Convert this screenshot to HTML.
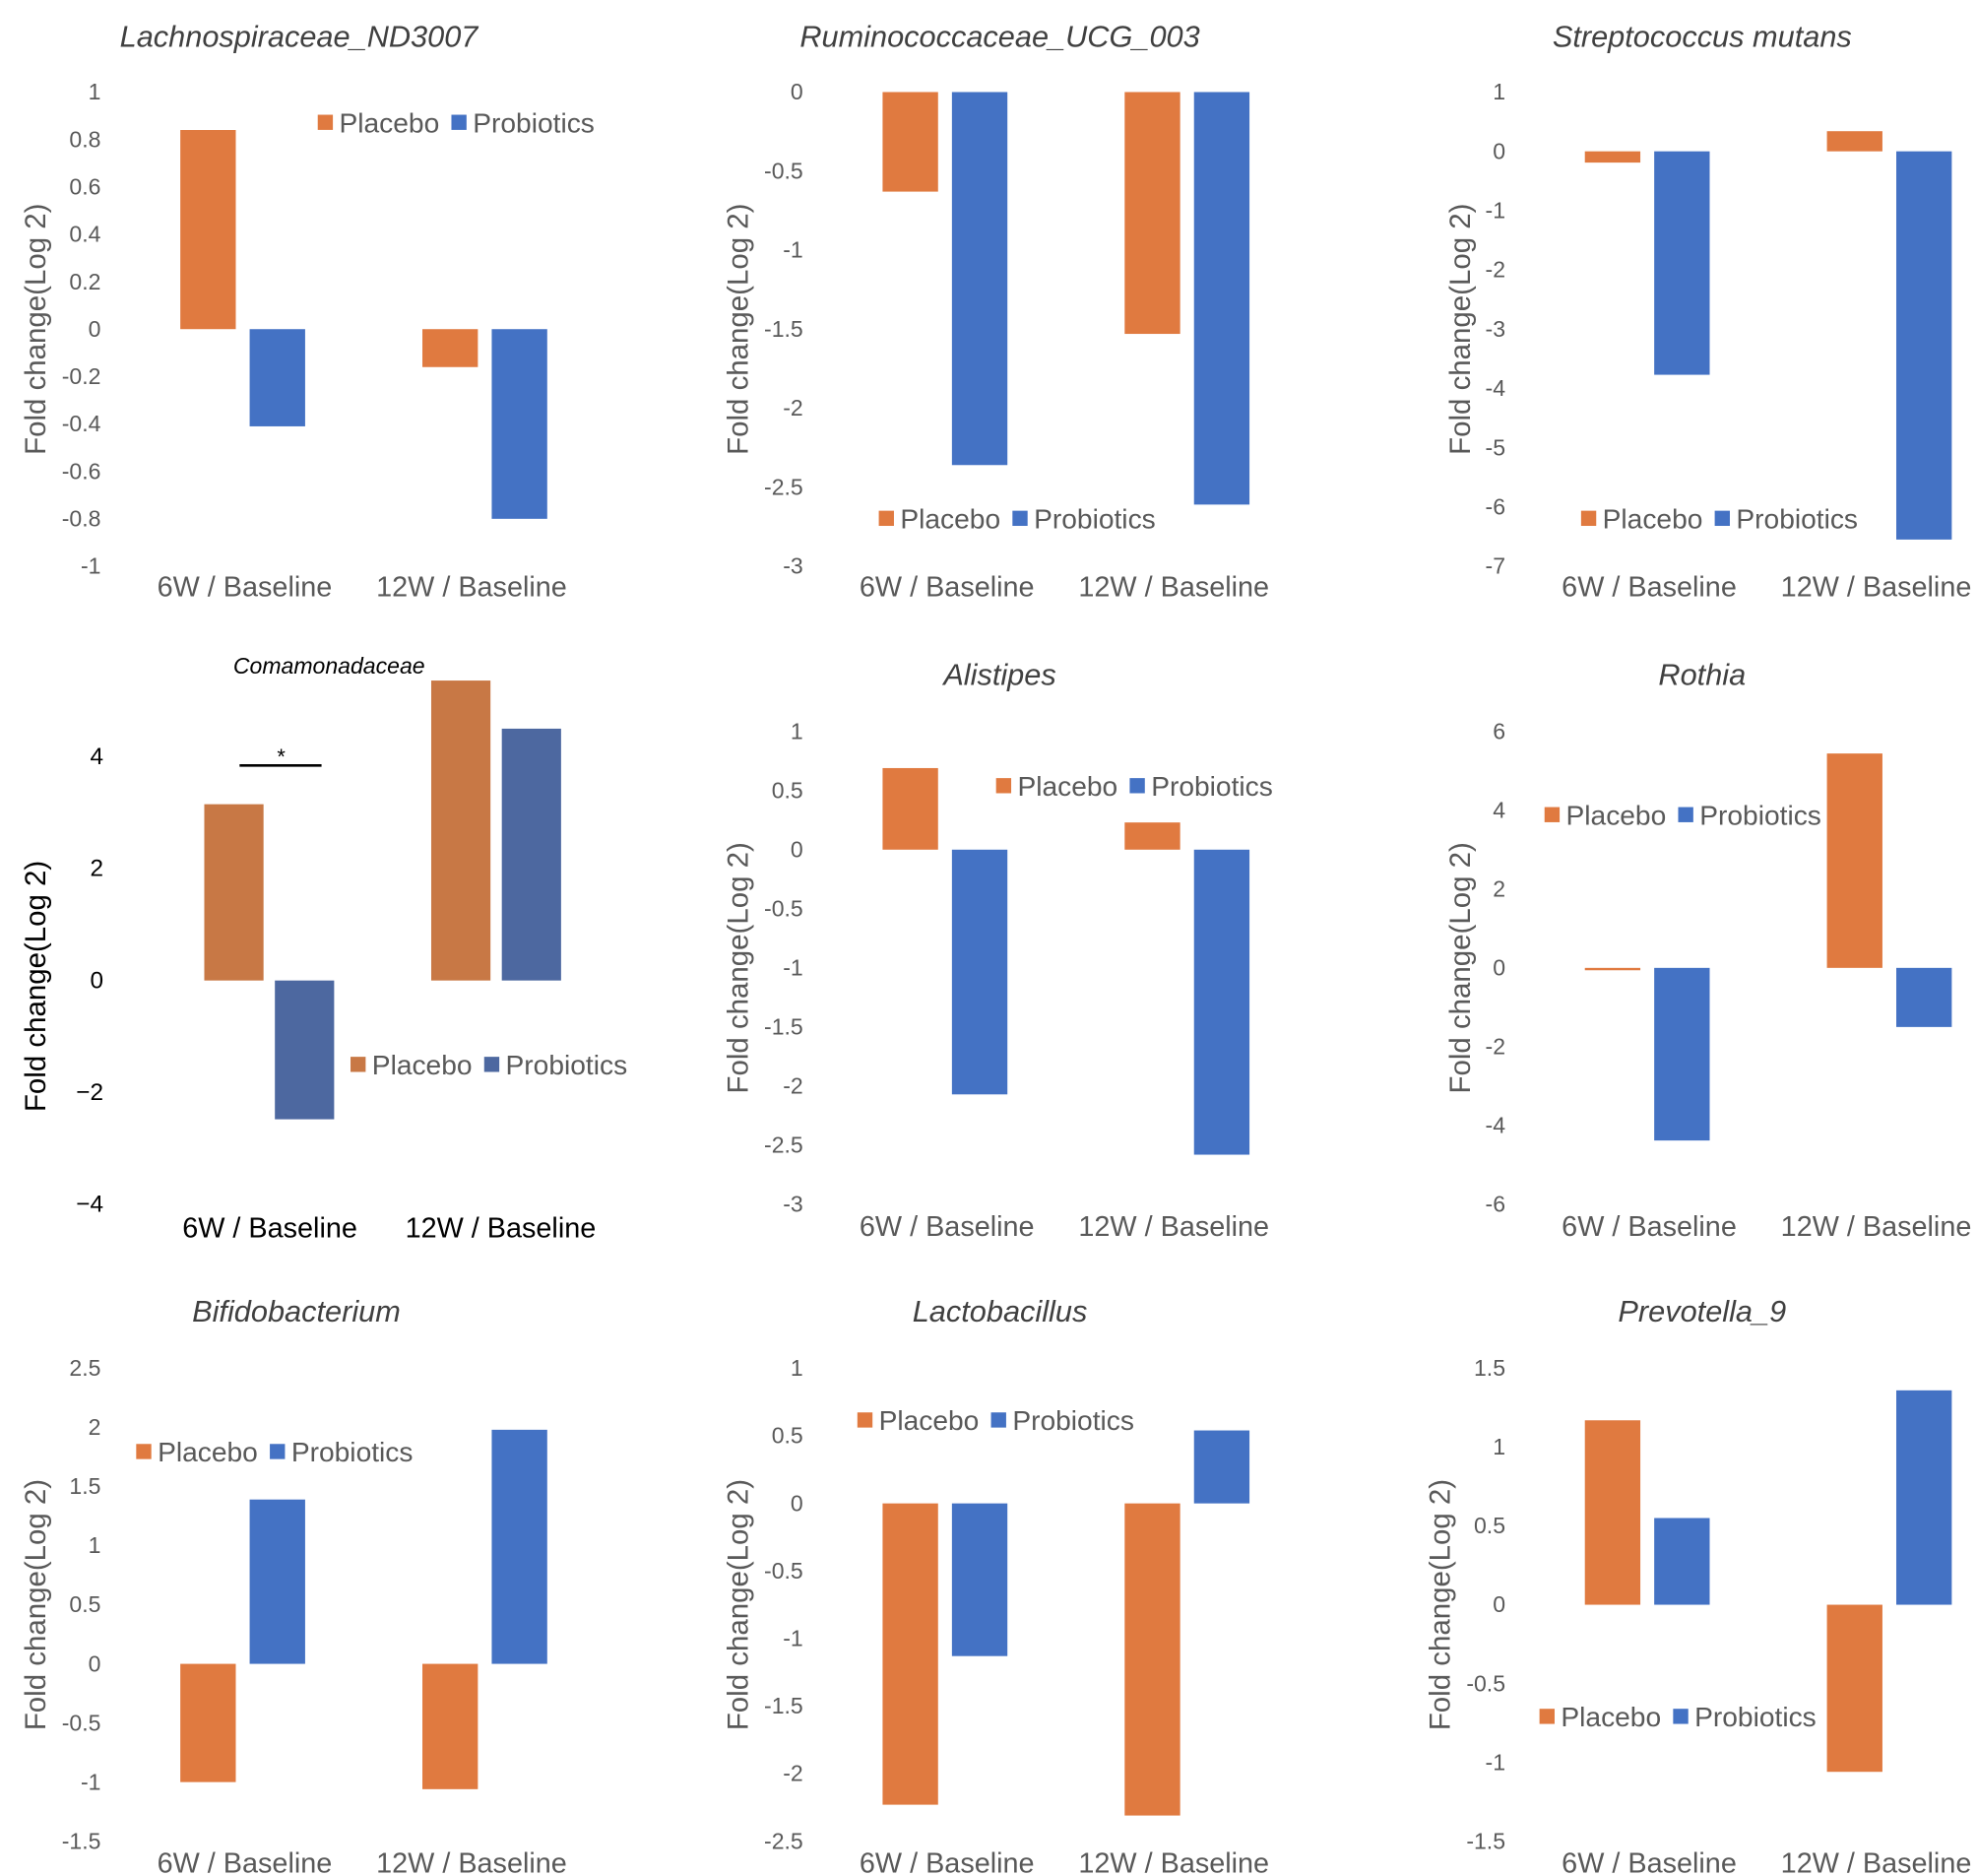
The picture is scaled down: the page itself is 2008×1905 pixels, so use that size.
<!DOCTYPE html>
<html><head><meta charset="utf-8"><style>
html,body{margin:0;padding:0;background:#fff;}
svg{display:block;}
text{font-family:"Liberation Sans",Arial,sans-serif;}
</style></head><body>
<svg id="fig" width="2008" height="1905" viewBox="0 0 1568 1487.6" xmlns="http://www.w3.org/2000/svg"></svg>
<script>
// ---- data ----
const categories = ["6W / Baseline", "12W / Baseline"];
const seriesNames = ["Placebo", "Probiotics"];

const lachnoTicks = [1,0.8,0.6,0.4,0.2,0,-0.2,-0.4,-0.6,-0.8,-1];
const lachnoPlacebo = [0.84, -0.16];
const lachnoProbiotics = [-0.41, -0.80];

const rumiTicks = [0,-0.5,-1,-1.5,-2,-2.5,-3];
const rumiPlacebo = [-0.63, -1.53];
const rumiProbiotics = [-2.36, -2.61];

const strepTicks = [1,0,-1,-2,-3,-4,-5,-6,-7];
const strepPlacebo = [-0.19, 0.34];
const strepProbiotics = [-3.77, -6.55];

const comaTicks = [4,2,0,-2,-4];
const comaTickLabels = ["4","2","0","\u22122","\u22124"];
const comaPlacebo = [3.15, 5.36];
const comaProbiotics = [-2.48, 4.5];

const alisTicks = [1,0.5,0,-0.5,-1,-1.5,-2,-2.5,-3];
const alisPlacebo = [0.69, 0.23];
const alisProbiotics = [-2.07, -2.58];

const rothTicks = [6,4,2,0,-2,-4,-6];
const rothPlacebo = [-0.06, 5.44];
const rothProbiotics = [-4.38, -1.5];

const bifiTicks = [2.5,2,1.5,1,0.5,0,-0.5,-1,-1.5];
const bifiPlacebo = [-1.0, -1.06];
const bifiProbiotics = [1.39, 1.98];

const lactoTicks = [1,0.5,0,-0.5,-1,-1.5,-2,-2.5];
const lactoPlacebo = [-2.23, -2.31];
const lactoProbiotics = [-1.13, 0.54];

const prevoTicks = [1.5,1,0.5,0,-0.5,-1,-1.5];
const prevoPlacebo = [1.17, -1.06];
const prevoProbiotics = [0.55, 1.36];

// ---- drawing ----
const NS = "http://www.w3.org/2000/svg";
const svg = document.getElementById("fig");
function mk(tag, attrs, parent, txt){
  const e = document.createElementNS(NS, tag);
  for (const k in attrs) e.setAttribute(k, attrs[k]);
  if (txt !== undefined) e.textContent = txt;
  (parent||svg).appendChild(e);
  return e;
}

function chart(o){
  const g = mk("g", {});
  
  
  const tMax = o.ticks[0], tMin = o.ticks[o.ticks.length-1];
  const y = v => o.yTop + (tMax - v) * (o.yBot - o.yTop) / (tMax - tMin);
  const gray = o.dark ? "#000" : "#595959";
  const t = mk("text", {x:o.titleX, y:o.titleY, "text-anchor":"middle", "font-size":o.titleSize||24, "font-style":"italic", fill:o.dark?"#000":"#404040"}, g, o.title);
  
  
  o.ticks.forEach((v,i)=>{
    const lab = o.tickLabels ? o.tickLabels[i] : String(v);
    const tt = mk("text", {x:o.tickX, y:y(v)+6, "text-anchor":"end", "font-size":o.tickSize||18, fill:gray}, g, lab);
    
    
  });
  const yt = mk("text", {x:0, y:0, transform:`translate(${o.axisX},${o.axisY}) rotate(-90)`, "text-anchor":"middle", "font-size":23, fill:gray}, g, "Fold change(Log 2)");
  
  
  const cols = o.dark ? ["#C87845","#4D68A0"] : ["#E07A40","#4472C4"];
  const series = [o.placebo, o.probiotics];
  categories.forEach((c,ci)=>{
    series.forEach((arr,si)=>{
      const v = arr[ci];
      const x = o.barX[ci] + si * o.barStep;
      const y0 = y(0), y1 = y(v);
      const r = mk("rect", {x:x, y:Math.min(y0,y1), width:o.barW, height:Math.max(1,Math.abs(y1-y0)), fill:cols[si]}, g);
      
      
    });
    const cl = mk("text", {x:o.catX[ci], y:o.catY, "text-anchor":"middle", "font-size":22.5, fill:o.dark?"#000":"#595959"}, g, c);
    
    
  });
  const lg = mk("g", {}, g);
  
  
  mk("rect", {x:o.legX, y:o.legY-6, width:12, height:12, fill:cols[0]}, lg);
  mk("text", {x:o.legX+17, y:o.legY+8, "font-size":22, fill:"#595959"}, lg, "Placebo");
  mk("rect", {x:o.legX+106, y:o.legY-6, width:12, height:12, fill:cols[1]}, lg);
  mk("text", {x:o.legX+123, y:o.legY+8, "font-size":22, fill:"#595959"}, lg, "Probiotics");
  return g;
}

function std(off, yTop, yBot, titleY, catY, legX, legY){
  return {tickX:80+off, yTop, yBot, titleX:0, titleY, axisX:36+off, axisY:(yTop+yBot)/2,
    barX:[143+off, 335+off], barStep:55, barW:44, catX:[194+off, 374+off], catY, legX, legY};
}

chart(Object.assign(std(0,73,449,37,473,252,97), {name:"lachnospiraceae", title:"Lachnospiraceae_ND3007", titleX:237, ticks:lachnoTicks, placebo:lachnoPlacebo, probiotics:lachnoProbiotics}));
chart(Object.assign(std(557,73,449,37,473,697,411), {name:"ruminococcaceae", title:"Ruminococcaceae_UCG_003", titleX:793, ticks:rumiTicks, placebo:rumiPlacebo, probiotics:rumiProbiotics, tickX:637, axisX:593}));
chart(Object.assign(std(1114,73,449,37,473,1254,411), {name:"streptococcus", title:"Streptococcus mutans", titleX:1350, ticks:strepTicks, placebo:strepPlacebo, probiotics:strepProbiotics, tickX:1194, axisX:1166}));

const coma = chart({name:"comamonadaceae", title:"Comamonadaceae", titleX:261, titleY:534, titleSize:18, dark:true,
  tickX:82, tickSize:19, ticks:comaTicks, tickLabels:comaTickLabels, yTop:600, yBot:955, axisX:36, axisY:782,
  barX:[162,342], barStep:56, barW:47, catX:[214,397], catY:981, legX:278, legY:844,
  placebo:comaPlacebo, probiotics:comaProbiotics});
const sig = mk("line", {x1:190, y1:607, x2:255, y2:607, stroke:"#000", "stroke-width":2}, coma);


const star = mk("text", {x:223, y:606, "text-anchor":"middle", "font-size":17, fill:"#000"}, coma, "*");



chart(Object.assign(std(557,580,955,543,980,790,623), {name:"alistipes", title:"Alistipes", titleX:793, ticks:alisTicks, placebo:alisPlacebo, probiotics:alisProbiotics, tickX:637, axisX:593}));
chart(Object.assign(std(1114,580,955,543,980,1225,646), {name:"rothia", title:"Rothia", titleX:1350, ticks:rothTicks, placebo:rothPlacebo, probiotics:rothProbiotics, tickX:1194, axisX:1166}));

chart(Object.assign(std(0,1085,1460,1048,1485,108,1151), {name:"bifidobacterium", title:"Bifidobacterium", titleX:235, ticks:bifiTicks, placebo:bifiPlacebo, probiotics:bifiProbiotics}));
chart(Object.assign(std(557,1085,1460,1048,1485,680,1126), {name:"lactobacillus", title:"Lactobacillus", titleX:793, ticks:lactoTicks, placebo:lactoPlacebo, probiotics:lactoProbiotics, tickX:637, axisX:593}));
chart(Object.assign(std(1114,1085,1460,1048,1485,1221,1361), {name:"prevotella", title:"Prevotella_9", titleX:1350, ticks:prevoTicks, placebo:prevoPlacebo, probiotics:prevoProbiotics, tickX:1194, axisX:1150}));
</script>
</body></html>
